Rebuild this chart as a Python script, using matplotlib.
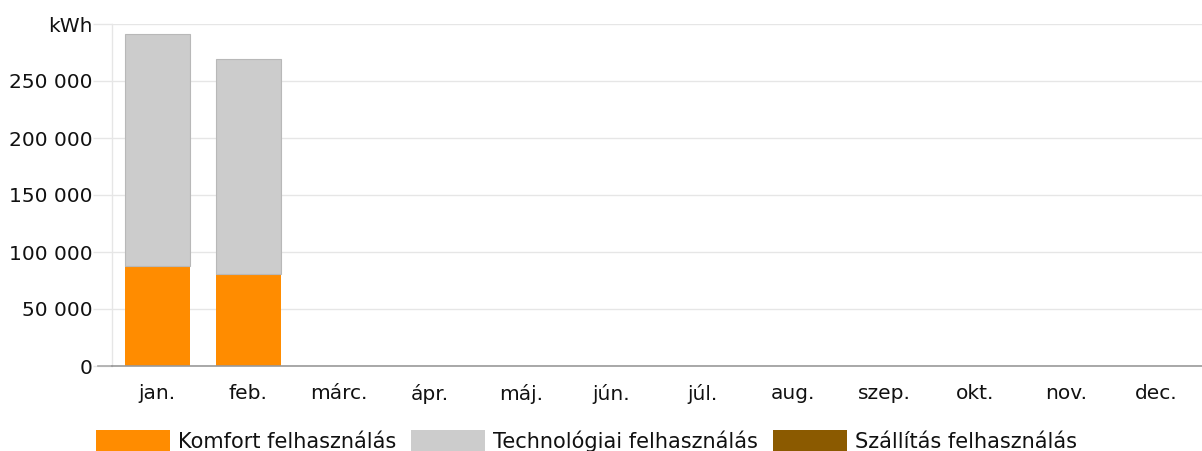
import numpy as np
import matplotlib
matplotlib.use("Agg")
import matplotlib.pyplot as plt
from matplotlib.patches import Patch
from matplotlib.ticker import FuncFormatter

months = ["jan.", "feb.", "márc.", "ápr.", "máj.", "jún.", "júl.", "aug.",
          "szep.", "okt.", "nov.", "dec."]
komfort = [88000, 81000] + [np.nan] * 10
technologiai = [203500, 188500] + [np.nan] * 10
szallitas = [0, 0] + [np.nan] * 10

series_names = ["Komfort felhasználás", "Technológiai felhasználás", "Szállítás felhasználás"]
colors = ["#FF8C00", "#CCCCCC", "#8B5A00"]

W, H = 1202, 451
fig = plt.figure(figsize=(W / 100, H / 100), dpi=100)
ax = fig.add_axes([112 / W, 1 - 366 / H, 1 - 112 / W, (366 - 24) / H])

x = np.arange(len(months))
bw = 0.72
k = np.array(komfort, dtype=float)
t = np.array(technologiai, dtype=float)
s = np.array(szallitas, dtype=float)
ax.bar(x, k, width=bw, color=colors[0], linewidth=0, zorder=3)
ax.bar(x, t, width=bw, bottom=k, color=colors[1], edgecolor="#b8b8b8",
       linewidth=0.8, zorder=3)
ax.bar(x, s, width=bw, bottom=k + t, color=colors[2], linewidth=0, zorder=3)

ax.set_xlim(-0.5, len(months) - 0.5)
ax.set_ylim(0, 300000)
ax.set_yticks(np.arange(0, 300001, 50000))


def fmt(v, pos):
    if v >= 300000:
        return "kWh"
    return f"{int(v):,}".replace(",", " ")


ax.yaxis.set_major_formatter(FuncFormatter(fmt))
ax.set_xticks(x)
ax.set_xticklabels(months)

ax.grid(axis="y", color="#e6e6e6", linewidth=1, zorder=0)
for side in ["top", "right"]:
    ax.spines[side].set_visible(False)
ax.spines["left"].set_color("#e6e6e6")
ax.spines["left"].set_linewidth(1)
ax.spines["bottom"].set_color("#999999")
ax.spines["bottom"].set_linewidth(1.2)
ax.spines["bottom"].set_zorder(4)

ax.tick_params(axis="y", length=14, width=1, color="#e6e6e6", pad=0,
               labelsize=14.5, labelcolor="#111111")
ax.tick_params(axis="x", length=0, pad=13, labelsize=14.5, labelcolor="#111111")

# baseline tick at zero
ax.plot([-14 / 1090, 0], [0, 0], transform=ax.get_yaxis_transform(),
        color="#aaaaaa", linewidth=1.2, clip_on=False, zorder=4)

handles = [Patch(facecolor=c, edgecolor="none") for c in colors]
fig.legend(handles, series_names, loc="center left",
           bbox_to_anchor=(88 / W, 1 - 441 / H), ncol=3, frameon=False,
           fontsize=15, handlelength=3.55, handleheight=1.2,
           handletextpad=0.38, columnspacing=0.72, borderaxespad=0,
           labelcolor="#111111")

fig.savefig("out.png", dpi=100)
